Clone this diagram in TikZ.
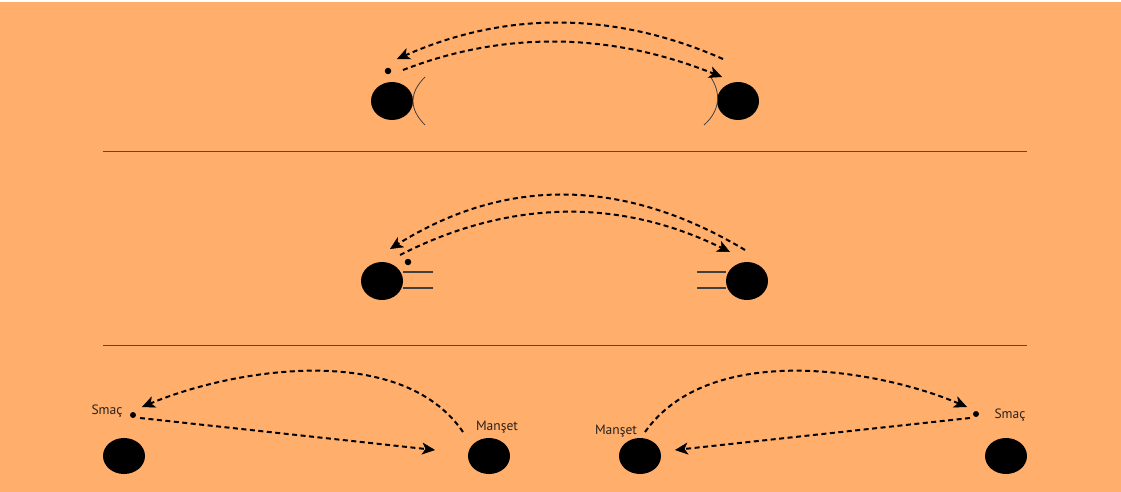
\documentclass[tikz,border=0pt]{standalone}
\usepackage{fontspec}
\setmainfont{PT Sans}
\usetikzlibrary{shapes.geometric,arrows.meta}
\definecolor{bg}{HTML}{FFAE6C}
\definecolor{sep}{HTML}{5E4636}
\definecolor{txt}{HTML}{2A221C}
\begin{document}
\begin{tikzpicture}[x=1pt,y=-1pt,
  ball/.style={ellipse,fill=black,draw=none,minimum width=42pt,minimum height=38pt,inner sep=0pt},
  dot/.style={circle,fill=black,draw=none,minimum size=6.5pt,inner sep=0pt},
  lbl/.style={font=\fontsize{13.5}{15}\selectfont,text=txt,inner sep=0pt},
  pass/.style={draw=black,line width=2pt,dash pattern=on 5pt off 3.5pt,
    -{Stealth[length=13pt,width=12pt,inset=3.5pt,fill=black,line width=0.5pt,sep=0pt]}},
  septr/.style={draw=sep,line width=0.9pt},
  guard/.style={draw=black!75,line width=0.8pt}]
\fill[bg] (0,0) rectangle (1121,492);
\fill[white] (0,0) rectangle (1121,2);
\useasboundingbox (0,0) rectangle (1121,492);
% separators
\coordinate (s1a) at (103,151); \coordinate (s1b) at (1027,151);
\coordinate (s2a) at (103,345); \coordinate (s2b) at (1027,345);
\draw[septr] (s1a) -- (s1b);
\draw[septr] (s2a) -- (s2b);
% ---------- row 1 ----------
\node[ball] (b1l) at (392,101) {};
\node[ball] (b1r) at (738,101) {};
\node[dot] (d1) at (388,71) {};
\draw[guard] (425,77) .. controls (409,93) and (409,109) .. (425,125);
\draw[guard] (710,76) .. controls (721,92) and (721,110) .. (704,125);
\coordinate (r1os) at (723,59); \coordinate (r1oe) at (397,59);
\coordinate (r1is) at (403,70); \coordinate (r1ie) at (722,77);
\draw[pass] (r1os) .. controls (614,11) and (506,11) .. (r1oe);
\draw[pass] (r1is) .. controls (506,30) and (612,33) .. (r1ie);
% ---------- row 2 ----------
\node[ball] (b2l) at (382,281) {};
\node[ball] (b2r) at (747,281) {};
\node[dot] (d2) at (408,262) {};
\draw[guard,line width=1.3pt] (b2l.east |- 0,272) -- (433,272);
\draw[guard,line width=1.3pt] (b2l.east |- 0,288) -- (433,288);
\draw[guard,line width=1.3pt] (697,272) -- (b2r.west |- 0,272);
\draw[guard,line width=1.3pt] (697,288) -- (b2r.west |- 0,288);
\coordinate (r2os) at (745,250); \coordinate (r2oe) at (390,249);
\coordinate (r2is) at (400,255); \coordinate (r2ie) at (730,252);
\draw[pass] (r2os) .. controls (623,177) and (505,177) .. (r2oe);
\draw[pass] (r2is) .. controls (510,199) and (620,198) .. (r2ie);
% ---------- row 3 left ----------
\node[ball,minimum height=36pt] (b3a) at (124,456) {};
\node[ball,minimum height=36pt] (b3b) at (489,456) {};
\node[dot,minimum size=6pt] (d3l) at (133,415) {};
\node[lbl] (smacl) at (107,411) {Smaç};
\node[lbl] (mansl) at (497,427) {Manşet};
\coordinate (l3as) at (463,432); \coordinate (l3ae) at (142,407);
\coordinate (l3bs) at (140,418); \coordinate (l3be) at (435,450);
\draw[pass] (l3as) .. controls (400,340) and (230,370) .. (l3ae);
\draw[pass] (l3bs) -- (l3be);
% ---------- row 3 right ----------
\node[ball,minimum height=36pt] (b3c) at (640,456) {};
\node[ball,minimum height=36pt] (b3d) at (1006,456) {};
\node[dot,minimum size=6pt] (d3r) at (976,414) {};
\node[lbl] (smacr) at (1010,415) {Smaç};
\node[lbl] (mansr) at (616,431) {Manşet};
\coordinate (r3as) at (645,432); \coordinate (r3ae) at (967,407);
\coordinate (r3bs) at (970,418); \coordinate (r3be) at (675,450);
\draw[pass] (r3as) .. controls (710,340) and (880,370) .. (r3ae);
\draw[pass] (r3bs) -- (r3be);
\end{tikzpicture}
\end{document}
